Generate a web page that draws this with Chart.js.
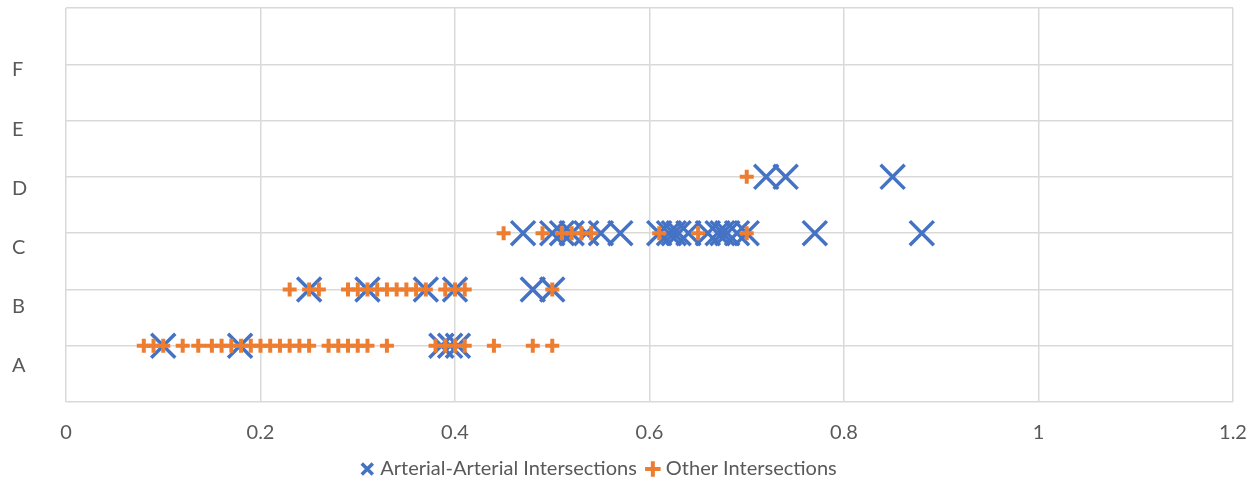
<!DOCTYPE html>
<html>
<head>
<meta charset="utf-8">
<script src="https://cdn.jsdelivr.net/npm/chart.js@4"></script>
<style>
  html, body { margin: 0; padding: 0; background: #fff; }
  .chart-box { width: 1259px; height: 482px; position: relative; }
</style>
</head>
<body>
<div class="chart-box"><canvas id="scatterChart"></canvas></div>
<script>
// category rows, bottom to top (y = 1..6)
const categories = ["A", "B", "C", "D", "E", "F"];
const xTicks = [0, 0.2, 0.4, 0.6, 0.8, 1, 1.2];

// x values per category row
const arterialA = [0.10, 0.179, 0.386, 0.395, 0.403];
const arterialB = [0.25, 0.31, 0.37, 0.40, 0.48, 0.50];
const arterialC = [0.47, 0.50, 0.51, 0.52, 0.535, 0.55, 0.57, 0.61, 0.62, 0.625, 0.63, 0.64,
                   0.66, 0.67, 0.675, 0.68, 0.69, 0.70, 0.77, 0.88];
const arterialD = [0.72, 0.74, 0.85];

const otherA = [0.08, 0.09, 0.10, 0.12, 0.136, 0.15, 0.16, 0.17, 0.18, 0.19, 0.20, 0.21, 0.22,
                0.23, 0.24, 0.25, 0.27, 0.28, 0.29, 0.30, 0.31, 0.33, 0.38, 0.39, 0.40, 0.41,
                0.44, 0.48, 0.50];
const otherB = [0.23, 0.25, 0.26, 0.29, 0.30, 0.31, 0.32, 0.33, 0.34, 0.35, 0.36, 0.37, 0.39,
                0.40, 0.41, 0.50];
const otherC = [0.45, 0.49, 0.51, 0.52, 0.53, 0.54, 0.61, 0.65, 0.70];
const otherD = [0.70];

const FONT = "Lato, sans-serif";
const TEXT = "#595959";
const GRID = "#d9d9d9";

function toPoints(rows) {
    const pts = [];
    rows.forEach((xs, i) => xs.forEach((x) => pts.push({ x: x, y: i + 1 })));
    return pts;
}

// nudge the legend row left so it sits where the original has it
const legendShift = {
    id: "legendShift",
    afterLayout: (chart) => { chart.legend.left -= 44; },
};

const ctx = document.getElementById("scatterChart");

new Chart(ctx.getContext("2d"), {
    type: "scatter",
    data: {
        datasets: [
            {
                label: "Arterial-Arterial Intersections",
                data: toPoints([arterialA, arterialB, arterialC, arterialD]),
                pointStyle: "crossRot",
                pointRadius: 17,
                pointHoverRadius: 17,
                borderColor: "#4472C4",
                backgroundColor: "#4472C4",
                pointBorderWidth: 3.5,
                borderWidth: 3.5,
                order: 1,
            },
            {
                label: "Other Intersections",
                data: toPoints([otherA, otherB, otherC, otherD]),
                pointStyle: "cross",
                pointRadius: 7,
                pointHoverRadius: 7,
                borderColor: "#ED7D31",
                backgroundColor: "#ED7D31",
                pointBorderWidth: 4,
                borderWidth: 4,
                order: 0,
            },
        ],
    },
    plugins: [legendShift],
    options: {
        responsive: true,
        maintainAspectRatio: false,
        animation: false,
        layout: {
            autoPadding: false,
            padding: { left: 12, right: 26, top: 8, bottom: -7 },
        },
        plugins: {
            tooltip: { enabled: false },
            legend: {
                position: "bottom",
                labels: {
                    usePointStyle: true,
                    boxHeight: 11,
                    boxWidth: 6,
                    padding: 13,
                    color: TEXT,
                    font: { family: FONT, size: 20, lineHeight: 1 },
                    sort: (a, b) => a.datasetIndex - b.datasetIndex,
                },
            },
        },
        scales: {
            x: {
                type: "linear",
                min: 0,
                max: 1.2,
                afterBuildTicks: (scale) => {
                    scale.ticks = xTicks.map((v) => ({ value: v }));
                },
                grid: { color: GRID, lineWidth: 1.5, drawTicks: false },
                border: { display: false },
                ticks: {
                    padding: 19,
                    color: TEXT,
                    font: { family: FONT, size: 20 },
                    callback: (v) => String(v),
                },
                afterFit: (scale) => {
                    scale.height = 44;
                    scale.paddingLeft = 0;
                    scale.paddingRight = 0;
                },
            },
            y: {
                type: "linear",
                position: "left",
                min: 0,
                max: 7,
                ticks: { display: false, stepSize: 1 },
                grid: { color: GRID, lineWidth: 1.5, drawTicks: false },
                border: { display: false },
                afterFit: (scale) => {
                    scale.width = 0;
                    scale.paddingTop = 0;
                    scale.paddingBottom = 0;
                },
            },
            yLabels: {
                type: "linear",
                position: "left",
                min: 0.392,
                max: 7.047,
                afterBuildTicks: (scale) => {
                    scale.ticks = categories.map((c, i) => ({ value: i + 1 }));
                },
                grid: { display: false },
                border: { display: false },
                ticks: {
                    color: TEXT,
                    crossAlign: "far",
                    font: { family: FONT, size: 20 },
                    callback: (v) => categories[v - 1],
                },
                afterFit: (scale) => {
                    scale.width = 54;
                    scale.paddingTop = 0;
                    scale.paddingBottom = 0;
                },
            },
        },
    },
});
</script>
</body>
</html>
